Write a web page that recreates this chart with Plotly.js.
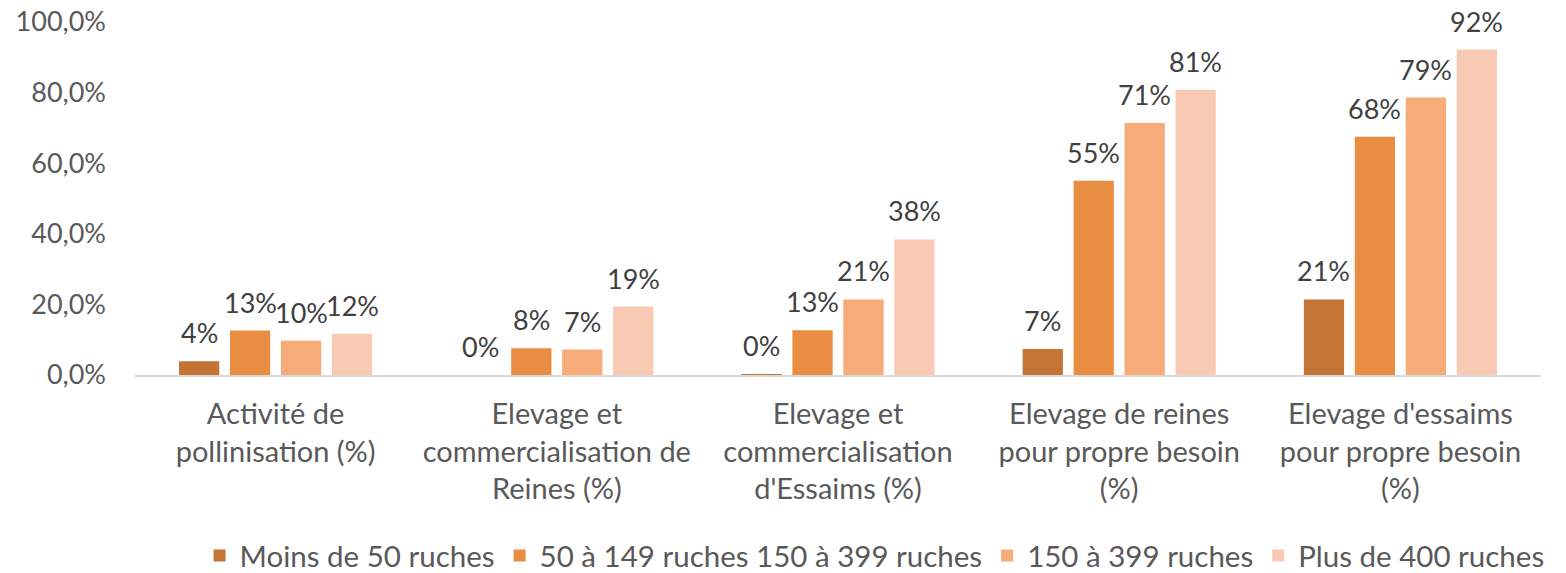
<!DOCTYPE html>
<html><head><meta charset="utf-8">
<script src="https://cdn.plot.ly/plotly-3.0.1.min.js"></script>
<style>html,body{margin:0;padding:0;background:#fff;}#chart{width:1566px;height:573px;}</style>
</head><body><div id="chart"></div>
<script>
const categories = [
  "Activité de<br>pollinisation (%)",
  "Elevage et<br>commercialisation de<br>Reines (%)",
  "Elevage et<br>commercialisation<br>d'Essaims (%)",
  "Elevage de reines<br>pour propre besoin<br>(%)",
  "Elevage d'essaims<br>pour propre besoin<br>(%)"
];
const seriesNames = ["Moins de 50 ruches", "50 à 149 ruches 150 à 399 ruches", "150 à 399 ruches", "Plus de 400 ruches"];
const moins50 = [3.9, 0.0, 0.3, 7.4, 21.4];
const r50_149 = [12.6, 7.6, 12.7, 55.0, 67.5];
const r150_399 = [9.7, 7.2, 21.4, 71.4, 78.6];
const plus400 = [11.7, 19.4, 38.4, 80.8, 92.2];
const colors = ["#C47535", "#E88D42", "#F6AB79", "#F8CAB3"];

const BARGAP = 0.275;
const allSeries = [moins50, r50_149, r150_399, plus400];
const traces = allSeries.map((vals, i) => ({
  type: 'bar',
  name: seriesNames[i],
  x: categories,
  y: vals,
  marker: {color: colors[i]},
  hoverinfo: 'none'
}));

// data labels placed over each bar (category index + group offset), raised a little above the bar top
const nS = allSeries.length;
const slot = (1 - BARGAP) / nS;
const annotations = [];
allSeries.forEach((vals, j) => {
  vals.forEach((v, i) => {
    annotations.push({
      xref: 'x', yref: 'y',
      x: i - (1 - BARGAP) / 2 + slot * (j + 0.5),
      y: v,
      text: Math.round(v) + '%',
      showarrow: false,
      yanchor: 'bottom', xanchor: 'center',
      yshift: 10,
      font: {family: 'Lato, sans-serif', size: 27, color: '#404040'}
    });
  });
});

const layout = {
  width: 1566, height: 573,
  margin: {l: 135, r: 25, t: 22, b: 198},
  paper_bgcolor: '#fff', plot_bgcolor: '#fff',
  barmode: 'group',
  bargap: BARGAP,
  bargroupgap: 0.21,
  font: {family: 'Lato, sans-serif', size: 28, color: '#595959'},
  xaxis: {
    showline: true, linecolor: '#d9d9d9', linewidth: 2,
    ticks: '', tickfont: {size: 29, color: '#595959'},
    ticklabelstandoff: 12,
    automargin: false
  },
  yaxis: {
    range: [0, 100], tickvals: [0, 20, 40, 60, 80, 100],
    ticktext: ["0,0%", "20,0%", "40,0%", "60,0%", "80,0%", "100,0%"],
    showgrid: false, zeroline: false, showline: false,
    tickfont: {size: 27, color: '#595959'}, ticklabelstandoff: 28,
    automargin: false
  },
  annotations: annotations,
  showlegend: true,
  legend: {
    orientation: 'h', x: 0.526, xanchor: 'center',
    yref: 'container', y: 0.03, yanchor: 'middle',
    font: {size: 29.5, color: '#595959'}, itemwidth: 30, tracegroupgap: 0
  }
};
Plotly.newPlot('chart', traces, layout, {displayModeBar: false, staticPlot: true});
</script>
</body></html>
